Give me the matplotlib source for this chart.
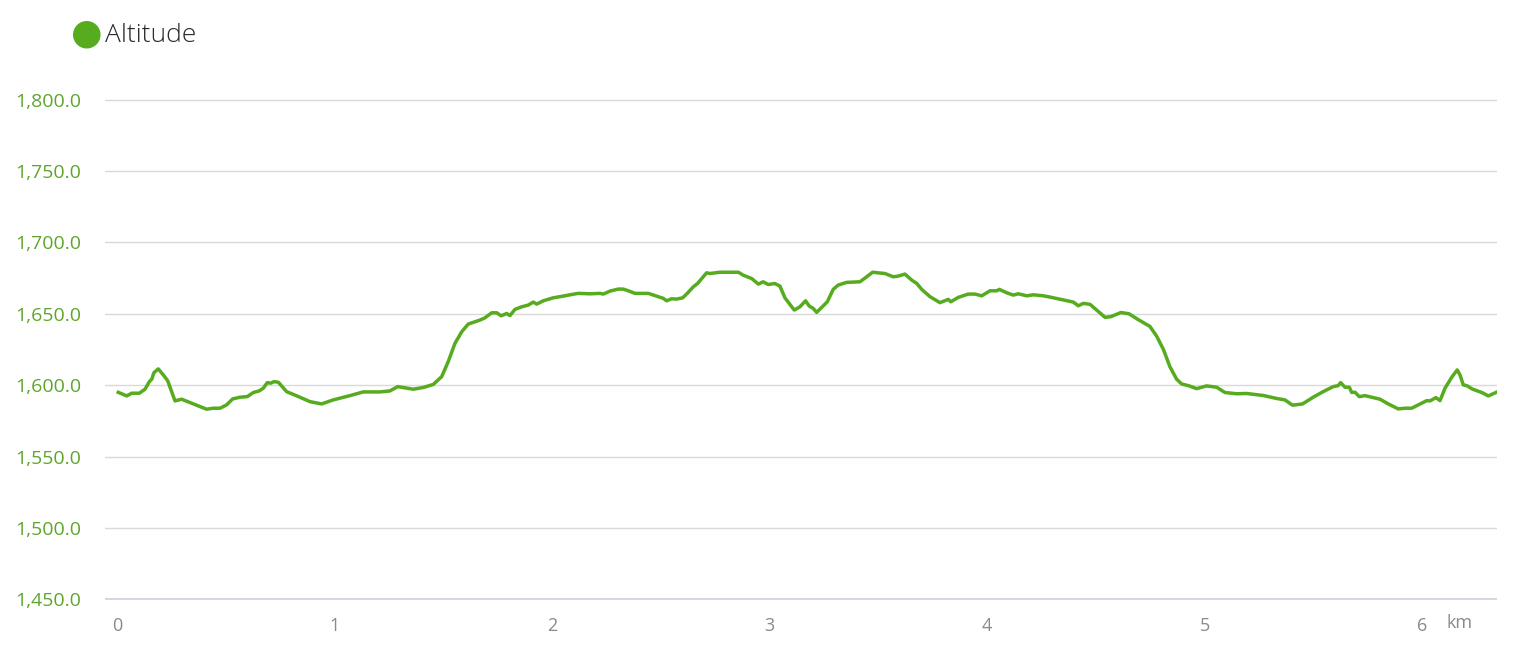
import matplotlib.pyplot as plt
from matplotlib.ticker import FuncFormatter

# distance (km) and altitude (m)
dist_km = [0.006, 0.045, 0.068, 0.103, 0.129, 0.149, 0.160, 0.170, 0.190, 0.213,
           0.233, 0.267, 0.297, 0.343, 0.382, 0.412, 0.443, 0.474, 0.504, 0.532,
           0.566, 0.599, 0.627, 0.654, 0.673, 0.691, 0.707, 0.722, 0.742, 0.780,
           0.841, 0.887, 0.941, 0.994, 1.071, 1.132, 1.209, 1.255, 1.291, 1.362,
           1.408, 1.454, 1.493, 1.523, 1.554, 1.585, 1.615, 1.669, 1.692, 1.723,
           1.746, 1.766, 1.792, 1.807, 1.830, 1.861, 1.891, 1.914, 1.930, 1.960,
           2.006, 2.052, 2.083, 2.121, 2.175, 2.221, 2.236, 2.267, 2.305, 2.328,
           2.351, 2.382, 2.443, 2.489, 2.512, 2.527, 2.550, 2.573, 2.601, 2.622,
           2.650, 2.670, 2.711, 2.726, 2.772, 2.857, 2.880, 2.918, 2.949, 2.971,
           2.994, 3.025, 3.048, 3.071, 3.114, 3.140, 3.166, 3.183, 3.201, 3.217,
           3.240, 3.266, 3.293, 3.316, 3.355, 3.416, 3.447, 3.474, 3.531, 3.569,
           3.592, 3.623, 3.654, 3.677, 3.700, 3.738, 3.784, 3.822, 3.834, 3.868,
           3.914, 3.945, 3.976, 4.014, 4.045, 4.057, 4.091, 4.121, 4.144, 4.183,
           4.213, 4.259, 4.290, 4.397, 4.420, 4.443, 4.474, 4.504, 4.543, 4.570,
           4.616, 4.653, 4.699, 4.749, 4.780, 4.811, 4.841, 4.872, 4.895, 4.930,
           4.964, 5.010, 5.056, 5.094, 5.148, 5.194, 5.270, 5.332, 5.370, 5.405,
           5.451, 5.500, 5.546, 5.592, 5.615, 5.626, 5.646, 5.666, 5.677, 5.692,
           5.712, 5.738, 5.807, 5.845, 5.891, 5.922, 5.953, 5.983, 6.022, 6.037,
           6.064, 6.083, 6.106, 6.137, 6.162, 6.175, 6.190, 6.206, 6.233, 6.275,
           6.305, 6.340]
altitude = [1595.0, 1592.5, 1594.4, 1594.4, 1597.2, 1602.5, 1604.2, 1608.8, 1611.4, 1607.2,
            1603.2, 1589.0, 1590.2, 1587.4, 1585.0, 1583.2, 1583.9, 1583.9, 1586.2, 1590.4,
            1591.6, 1592.0, 1594.9, 1596.0, 1597.9, 1601.8, 1601.4, 1602.5, 1602.1, 1595.5,
            1591.6, 1588.5, 1586.9, 1589.7, 1592.7, 1595.3, 1595.3, 1596.0, 1599.0, 1597.2,
            1598.4, 1600.5, 1606.0, 1616.5, 1629.3, 1637.4, 1642.8, 1645.6, 1647.2, 1650.7,
            1650.7, 1648.6, 1650.2, 1648.8, 1653.1, 1654.9, 1656.1, 1658.2, 1656.8, 1659.1,
            1661.2, 1662.4, 1663.3, 1664.3, 1664.0, 1664.3, 1663.8, 1665.9, 1667.3, 1667.3,
            1666.1, 1664.3, 1664.3, 1662.0, 1660.8, 1659.1, 1660.5, 1660.3, 1661.2, 1664.3,
            1668.9, 1671.3, 1678.7, 1678.2, 1679.1, 1679.1, 1677.0, 1674.7, 1670.8, 1672.4,
            1670.5, 1671.2, 1669.4, 1661.2, 1652.6, 1654.9, 1659.1, 1655.4, 1653.8, 1651.0,
            1654.5, 1658.4, 1667.1, 1670.1, 1672.0, 1672.4, 1675.9, 1679.1, 1678.2, 1675.9,
            1676.4, 1677.8, 1673.6, 1671.3, 1667.1, 1662.0, 1657.8, 1660.1, 1658.4, 1661.5,
            1663.8, 1663.8, 1662.6, 1666.1, 1666.1, 1667.1, 1664.7, 1663.1, 1664.0, 1662.6,
            1663.3, 1662.6, 1661.7, 1658.2, 1655.6, 1657.3, 1656.6, 1652.6, 1647.5, 1648.0,
            1650.9, 1650.0, 1645.6, 1641.2, 1634.4, 1625.1, 1613.0, 1604.2, 1600.9, 1599.5,
            1597.6, 1599.5, 1598.6, 1594.9, 1594.0, 1594.2, 1592.8, 1590.7, 1589.7, 1586.0,
            1586.9, 1591.6, 1595.5, 1599.0, 1599.7, 1601.8, 1598.6, 1598.6, 1594.9, 1595.1,
            1592.0, 1592.7, 1590.2, 1586.9, 1583.4, 1583.9, 1583.9, 1586.2, 1589.2, 1589.0,
            1591.3, 1589.2, 1597.9, 1605.6, 1610.7, 1607.2, 1600.2, 1599.7, 1597.2, 1594.9,
            1592.5, 1594.9]

y_ticks = [1450, 1500, 1550, 1600, 1650, 1700, 1750, 1800]
x_ticks = [0, 1, 2, 3, 4, 5, 6]

green = '#56ab1f'
font = ['Open Sans', 'DejaVu Sans']

fig = plt.figure(figsize=(15.31, 6.51), dpi=100)
ax = fig.add_axes([105 / 1531, 51 / 651, (1497 - 105) / 1531, (600 - 99) / 651])

ax.plot(dist_km, altitude, color=green, linewidth=2.5, solid_joinstyle='round',
        zorder=3)

ax.set_xlim(-0.055, 6.345)
ax.set_ylim(1449.6, 1800.4)
ax.set_yticks(y_ticks)
ax.set_xticks(x_ticks)
ax.yaxis.set_major_formatter(FuncFormatter(lambda v, p: f'{v:,.1f}'))
ax.grid(axis='y', color='#d9d9d9', linewidth=1)
ax.grid(axis='x', visible=False)
ax.axhline(1450, color='#ccd0da', linewidth=1.3, zorder=1)
for s in ax.spines.values():
    s.set_visible(False)
ax.tick_params(axis='y', length=0, pad=17, labelsize=14, labelcolor='#5fa52c')
ax.tick_params(axis='x', length=0, pad=12, labelsize=13, labelcolor='#8a8a8a')
for lbl in ax.get_yticklabels() + ax.get_xticklabels():
    lbl.set_family(font)

# unit label beside the last tick
fig.text(1459.5 / 1531, 1 - 623 / 651, 'km', ha='center', va='center',
         fontsize=13, color='#8a8a8a', family=font)

# legend
fig.text(87 / 1531, 1 - 34 / 651, '\u25cf', color=green, fontsize=26,
         ha='center', va='center', family=font)
fig.text(105 / 1531, 1 - 35 / 651, 'Altitude', color='#2a2a2a', fontsize=19,
         ha='left', va='center', family=font, fontweight='light')

fig.savefig('out.png', dpi=100, facecolor='white')
